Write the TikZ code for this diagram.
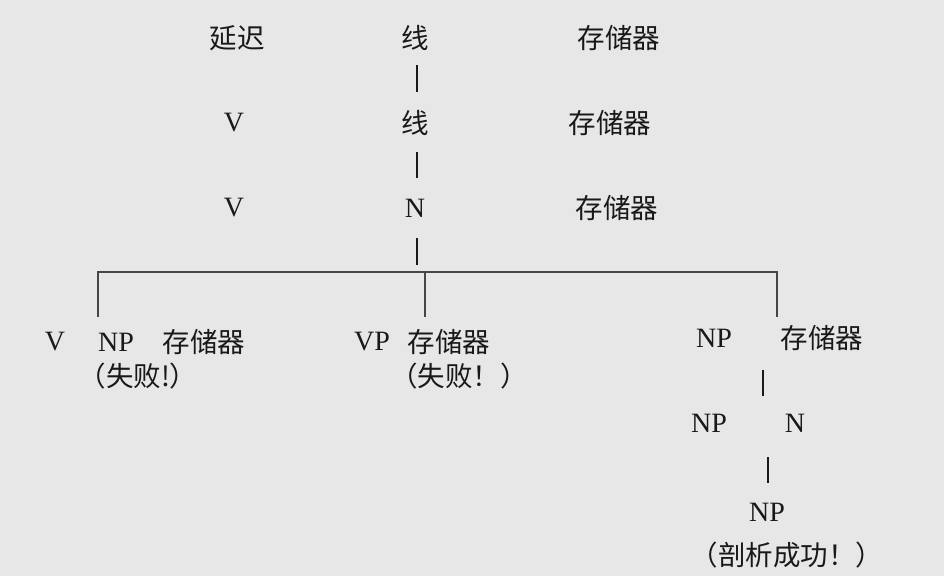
\documentclass[tikz,border=0pt]{standalone}
\usepackage{fontspec}
\setmainfont{Liberation Serif}
\newfontfamily\cjk{Noto Sans CJK SC}
\definecolor{bgc}{RGB}{231,231,231}
\definecolor{ink}{RGB}{25,25,25}
\definecolor{linec}{RGB}{70,70,70}
\begin{document}
\begin{tikzpicture}[x=1pt,y=-1pt,
  lbl/.style={inner sep=0pt,text=ink,font=\fontsize{28}{32}\selectfont},
  zh/.style={lbl,font=\fontsize{27.5}{32}\selectfont\cjk},
  bar/.style={draw=ink,line width=1.4pt},
  tree/.style={draw=linec,line width=1.6pt}]
\fill[bgc] (0,0) rectangle (944,576);
\useasboundingbox (0,0) rectangle (944,576);
% row 1
\node[zh] (a1) at (237,38) {延迟};
\node[zh] (b1) at (415,38) {线};
\node[zh] (c1) at (619,38) {存储器};
% row 2
\node[lbl] (a2) at (234,123) {V};
\node[zh] (b2) at (415,123) {线};
\node[zh] (c2) at (610,123) {存储器};
% row 3
\node[lbl] (a3) at (234,208) {V};
\node[lbl] (b3) at (415,208) {N};
\node[zh] (c3) at (617,208) {存储器};
% bars
\path (b1) ++(2,27) coordinate (p1) ++(0,27) coordinate (q1);
\path (b2) ++(2,29) coordinate (p2) ++(0,26) coordinate (q2);
\path (b3) ++(2,30) coordinate (p3) ++(0,27) coordinate (q3);
\draw[bar] (p1) -- (q1);
\draw[bar] (p2) -- (q2);
\draw[bar] (p3) -- (q3);
% tree
\coordinate (h) at (425,272);
\coordinate (tL) at (98,317);
\coordinate (tM) at (425,317);
\coordinate (tR) at (777,317);
\draw[tree] (tL) -- (tL |- h) -- (tR |- h) -- (tR);
\draw[tree] (h) -- (tM);
% row 4 left
\node[lbl] (v4) at (55,342) {V};
\node[lbl] (np4) at (116,342) {NP};
\node[zh] (m4) at (204,342) {存储器};
\node[zh] (f1) at (138,376) {（失败!）};
% row 4 middle
\node[lbl] (vp4) at (372,342) {VP};
\node[zh] (m5) at (449,342) {存储器};
\node[zh] (f2) at (459,376) {（失败！）};
% right branch
\node[lbl] (r1) at (714,338) {NP};
\node[zh] (r2) at (822,338) {存储器};
\coordinate (s1) at (763,370);
\coordinate (e1) at (763,396);
\draw[bar] (s1) -- (e1);
\node[lbl] (r3) at (709,423) {NP};
\node[lbl] (r4) at (795,423) {N};
\coordinate (s2) at (768,457);
\coordinate (e2) at (768,483);
\draw[bar] (s2) -- (e2);
\node[lbl] (r5) at (767,512) {NP};
\node[zh] (r6) at (787,555) {（剖析成功！）};
\end{tikzpicture}
\end{document}
